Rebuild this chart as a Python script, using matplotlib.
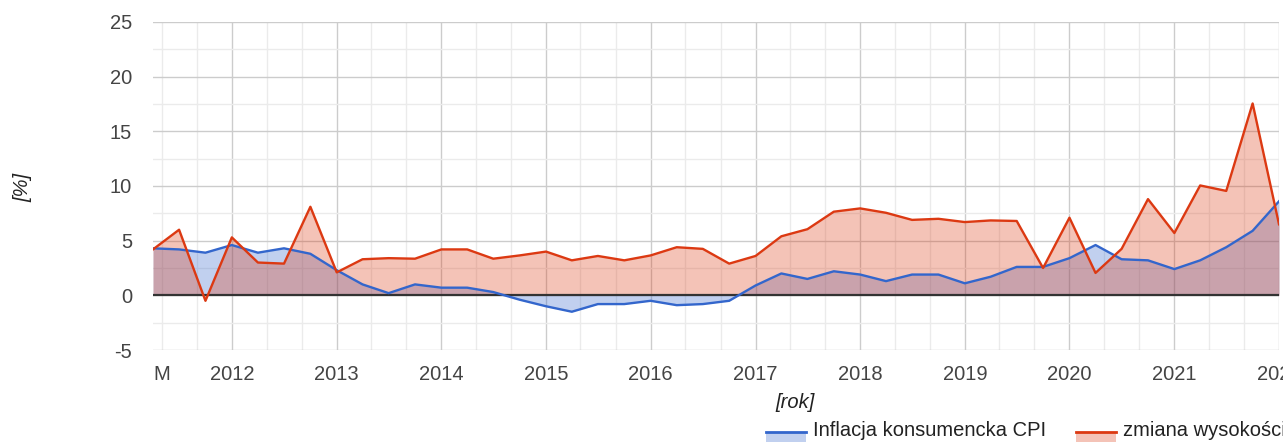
import numpy as np
import pandas as pd
import matplotlib
matplotlib.use("Agg")
import matplotlib.pyplot as plt
from matplotlib.patches import Rectangle
from matplotlib.lines import Line2D

# quarterly data, 2011 Q2 .. 2022 Q1 (first day of quarter)
quarters = pd.date_range("2011-04-01", "2022-01-01", freq="QS")

cpi = [4.3, 4.2, 3.9, 4.6, 3.9, 4.3, 3.8, 2.3, 1.0, 0.2, 1.0, 0.7,
       0.7, 0.3, -0.4, -1.0, -1.5, -0.8, -0.8, -0.5, -0.9, -0.8, -0.5, 0.9,
       2.0, 1.5, 2.2, 1.9, 1.3, 1.9, 1.9, 1.1, 1.7, 2.6, 2.6, 3.4,
       4.6, 3.3, 3.2, 2.4, 3.2, 4.4, 5.9, 8.6]

zmiana = [4.2, 6.0, -0.5, 5.3, 3.0, 2.9, 8.1, 2.1, 3.3, 3.4, 3.35, 4.2,
          4.2, 3.35, 3.65, 4.0, 3.2, 3.6, 3.2, 3.65, 4.4, 4.25, 2.9, 3.6,
          5.4, 6.05, 7.65, 7.95, 7.55, 6.9, 7.0, 6.7, 6.85, 6.8, 2.5, 7.1,
          2.05, 4.25, 8.8, 5.7, 10.05, 9.55, 17.55, 6.5]

label_cpi = "Inflacja konsumencka CPI"
label_zmiana = "zmiana wysokości cen"

blue = "#3366cc"
red = "#dc3912"
fs = 14.5

plt.rcParams["font.family"] = ["Liberation Sans", "DejaVu Sans"]
plt.rcParams["axes.unicode_minus"] = False

fig = plt.figure(figsize=(12.83, 4.42), dpi=100)
ax = fig.add_axes([153 / 1283, 1 - 350 / 442, 1126 / 1283, 328 / 442])

# area + lines, like google area chart
ax.fill_between(quarters, 0, cpi, color=blue, alpha=0.3, lw=0, zorder=2)
ax.fill_between(quarters, 0, zmiana, color=red, alpha=0.3, lw=0, zorder=2)
ax.plot(quarters, cpi, color=blue, lw=1.7, zorder=4)
ax.plot(quarters, zmiana, color=red, lw=1.7, zorder=5)
ax.axhline(0, color="#333333", lw=1.6, zorder=3)

ax.set_xlim(quarters[0], quarters[-1])
ax.set_ylim(-5, 25)

years = pd.date_range("2012-01-01", "2022-01-01", freq="YS")
ax.set_xticks(years)
ax.set_xticklabels([str(d.year) for d in years])
minor = [d for d in pd.date_range("2011-05-01", "2022-01-01", freq="4MS") if d.month != 1]
ax.set_xticks(minor, minor=True)
ax.set_xticklabels(["M" if i == 0 else "" for i in range(len(minor))], minor=True)

ax.set_yticks(np.arange(-5, 26, 5))
ax.set_yticks(np.arange(-2.5, 25, 5), minor=True)

ax.grid(which="major", color="#cccccc", lw=1.0, zorder=0)
ax.grid(which="minor", color="#ebebeb", lw=1.0, zorder=0)
ax.set_axisbelow(True)
for s in ax.spines.values():
    s.set_visible(False)

ax.tick_params(axis="both", which="both", length=0, labelsize=fs, labelcolor="#444444")
ax.tick_params(axis="x", which="both", pad=10.5)
ax.tick_params(axis="y", pad=15)

fig.text(22.5 / 1283, 1 - 187 / 442, "[%]", rotation=90, style="italic",
         fontsize=fs, color="#222222", ha="center", va="center")
fig.text(795 / 1283, 1 - 403 / 442, "[rok]", style="italic",
         fontsize=fs, color="#222222", ha="center", va="center")

# legend drawn by hand at the bottom
def legend_item(x0, color, text):
    fig.add_artist(Rectangle((x0 / 1283, 1 - 450 / 442), 40 / 1283, 18 / 442,
                             transform=fig.transFigure, color=color, alpha=0.3, lw=0))
    fig.add_artist(Line2D([x0 / 1283, (x0 + 40) / 1283], [1 - 432 / 442] * 2,
                          transform=fig.transFigure, color=color, lw=2))
    fig.text((x0 + 47) / 1283, 1 - 431 / 442, text, fontsize=fs,
             color="#222222", ha="left", va="center")

legend_item(766, blue, label_cpi)
legend_item(1076, red, label_zmiana)

fig.savefig("out.png", dpi=100)
